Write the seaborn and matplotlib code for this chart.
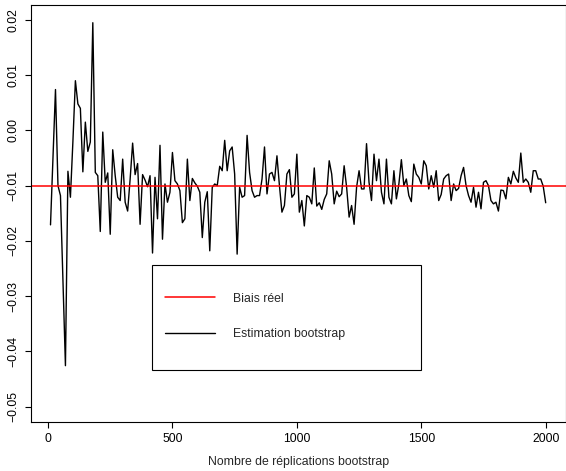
import numpy as np
import pandas as pd
import matplotlib
matplotlib.use('Agg')
import matplotlib.pyplot as plt
from matplotlib.ticker import FuncFormatter
from matplotlib.patches import Rectangle
from matplotlib.lines import Line2D
import seaborn as sns

# nombre de replications bootstrap (pas de 10)
nb_rep = np.arange(10, 2010, 10)

# estimation bootstrap du biais
biais_boot = [
    -0.0171, -0.0050, 0.0074, -0.0100, -0.0118, -0.0270, -0.0426, -0.0074, -0.0121, -0.0020,
    0.0090, 0.0048, 0.0040, -0.0075, 0.0015, -0.0038, -0.0021, 0.0195, -0.0076, -0.0082,
    -0.0183, -0.0003, -0.0094, -0.0077, -0.0188, -0.0035, -0.0082, -0.0121, -0.0127, -0.0052,
    -0.0130, -0.0146, -0.0088, -0.0023, -0.0080, -0.0060, -0.0170, -0.0080, -0.0090, -0.0102,
    -0.0082, -0.0222, -0.0085, -0.0160, -0.0027, -0.0197, -0.0097, -0.0130, -0.0112, -0.0040,
    -0.0091, -0.0097, -0.0109, -0.0167, -0.0160, -0.0052, -0.0127, -0.0087, -0.0095, -0.0101,
    -0.0112, -0.0194, -0.0130, -0.0111, -0.0218, -0.0103, -0.0097, -0.0100, -0.0065, -0.0073,
    -0.0018, -0.0073, -0.0037, -0.0030, -0.0079, -0.0224, -0.0103, -0.0121, -0.0118, -0.0009,
    -0.0076, -0.0109, -0.0121, -0.0118, -0.0118, -0.0088, -0.0030, -0.0115, -0.0079, -0.0076,
    -0.0091, -0.0046, -0.0100, -0.0148, -0.0136, -0.0079, -0.0071, -0.0121, -0.0115, -0.0043,
    -0.0148, -0.0127, -0.0173, -0.0118, -0.0121, -0.0133, -0.0068, -0.0137, -0.0131, -0.0143,
    -0.0125, -0.0115, -0.0055, -0.0079, -0.0133, -0.0110, -0.0120, -0.0115, -0.0064, -0.0103,
    -0.0157, -0.0136, -0.0170, -0.0103, -0.0073, -0.0106, -0.0106, -0.0024, -0.0094, -0.0127,
    -0.0043, -0.0091, -0.0052, -0.0112, -0.0133, -0.0052, -0.0121, -0.0133, -0.0073, -0.0124,
    -0.0097, -0.0053, -0.0100, -0.0088, -0.0118, -0.0129, -0.0061, -0.0079, -0.0085, -0.0097,
    -0.0055, -0.0064, -0.0106, -0.0082, -0.0103, -0.0073, -0.0127, -0.0116, -0.0088, -0.0082,
    -0.0079, -0.0127, -0.0097, -0.0109, -0.0105, -0.0082, -0.0067, -0.0100, -0.0118, -0.0130,
    -0.0103, -0.0139, -0.0112, -0.0142, -0.0094, -0.0091, -0.0100, -0.0127, -0.0133, -0.0130,
    -0.0146, -0.0108, -0.0109, -0.0124, -0.0085, -0.0097, -0.0074, -0.0086, -0.0094, -0.0041,
    -0.0094, -0.0088, -0.0094, -0.0112, -0.0073, -0.0073, -0.0088, -0.0088, -0.0101, -0.0131,
]
biais_reel = -0.0100

xticks = [0, 500, 1000, 1500, 2000]
yticks = [-0.05, -0.04, -0.03, -0.02, -0.01, 0.00, 0.01, 0.02]

dat = pd.DataFrame({'rep': nb_rep, 'biais': biais_boot})

sns.set_style('white')
plt.rcParams['font.family'] = ['Liberation Sans', 'DejaVu Sans']

W, H = 566, 471
fig = plt.figure(figsize=(W / 100, H / 100), dpi=100)
# boite du graphe en pixels (gauche, haut, droite, bas)
bl, bt, br, bb = 30.7, 4.5, 565.5, 422.0
ax = fig.add_axes([bl / W, 1 - bb / H, (br - bl) / W, (bb - bt) / H])

sns.lineplot(x='rep', y='biais', data=dat, ax=ax, color='black', lw=1.0,
             estimator=None, legend=False)
ax.axhline(biais_reel, color='#ff0000', lw=1.1)

ax.set_xlim(10 - 0.04 * 1990, 2000 + 0.04 * 1990)
ax.set_ylim(-0.05 - 0.04 * 0.07, 0.02 + 0.04 * 0.07)
ax.set_xticks(xticks)
ax.set_yticks(yticks)

def fmt_y(v, pos):
    s = '%.2f' % v
    if s == '-0.00':
        s = '0.00'
    return s.replace('-', '\u2212')

ax.yaxis.set_major_formatter(FuncFormatter(fmt_y))
ax.tick_params(axis='both', direction='out', length=4, width=0.8, color='black',
               labelsize=8.8, labelcolor='black', bottom=True, left=True)
ax.tick_params(axis='x', pad=4)
ax.tick_params(axis='y', pad=4)
for lab in ax.get_yticklabels():
    lab.set_rotation(90)
    lab.set_va('center')

for sp in ax.spines.values():
    sp.set_color('black')
    sp.set_linewidth(0.8)

ax.set_xlabel('Nombre de réplications bootstrap', fontsize=8.8, labelpad=8)
ax.set_ylabel('')

# legende (cadre a part, comme dans R)
lx0, ly0, lx1, ly1 = 152, 265, 421, 370
ax.add_patch(Rectangle(((lx0 - bl) / (br - bl), (bb - ly1) / (bb - bt)),
                       (lx1 - lx0) / (br - bl), (ly1 - ly0) / (bb - bt),
                       transform=ax.transAxes, fill=False, ec='black', lw=0.8))
handles = [Line2D([], [], color='#ff0000', lw=1.1),
           Line2D([], [], color='black', lw=1.0)]
ax.legend(handles, ['Biais réel', 'Estimation bootstrap'], loc='center left',
          bbox_to_anchor=((165 - bl) / (br - bl), (bb - 316.5) / (bb - bt)),
          frameon=False, fontsize=8.8, borderpad=0, borderaxespad=0,
          handlelength=4.1, handletextpad=1.45, labelspacing=1.95)

fig.savefig('out.png', dpi=100)
